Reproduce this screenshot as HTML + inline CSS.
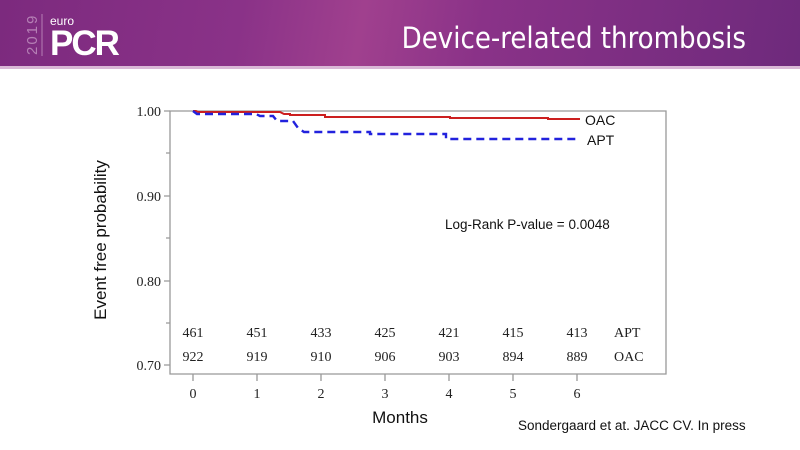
<!DOCTYPE html>
<html><head><meta charset="utf-8"><style>
body{margin:0;width:800px;height:450px;overflow:hidden;background:#fff;font-family:"Liberation Sans",sans-serif}
.hdr{position:absolute;left:0;top:0;width:800px;height:66px;background:linear-gradient(100deg,#7c2a7e 0%,#8a3288 30%,#a0408e 45%,#8a3288 60%,#6e2a7c 100%)}
.line{position:absolute;left:0;top:66px;width:800px;height:3px;background:#d9b8d6}
</style></head><body>
<div class="hdr"></div><div class="line"></div>
<svg width="800" height="450" style="position:absolute;left:0;top:0" font-family="Liberation Serif, serif">
<text x="0" y="0" transform="translate(37,55) rotate(-90)" font-family="Liberation Sans, sans-serif" font-size="15" fill="#b57fb5" letter-spacing="2">2019</text>
<line x1="42" y1="14" x2="42" y2="56" stroke="#b57fb5"/>
<text x="50" y="25" font-family="Liberation Sans, sans-serif" font-size="12" fill="#fff">euro</text>
<text x="50" y="55" font-family="Liberation Sans, sans-serif" font-size="35" font-weight="bold" fill="#fff" letter-spacing="-2">PCR</text>
<text x="746" y="48" text-anchor="end" font-family="DejaVu Sans Condensed, Liberation Sans, sans-serif" font-size="29" fill="#fff">Device-related thrombosis</text>
<g stroke="#999" fill="none" stroke-width="1.3">
<path d="M170 111 H666 V374 H170 Z"/>
<path d="M164 111H170M164 196H170M164 281H170M164 365H170M166 153H170M166 238H170M166 323H170"/>
<path d="M193 374v7M257 374v7M321 374v7M385 374v7M449 374v7M513 374v7M577 374v7"/>
</g>
<g font-size="14" fill="#222" text-anchor="end">
<text x="161" y="116">1.00</text><text x="161" y="201">0.90</text><text x="161" y="286">0.80</text><text x="161" y="370">0.70</text>
</g>
<g font-size="14" fill="#222" text-anchor="middle">
<text x="193" y="398">0</text><text x="257" y="398">1</text><text x="321" y="398">2</text><text x="385" y="398">3</text><text x="449" y="398">4</text><text x="513" y="398">5</text><text x="577" y="398">6</text>
<text x="193" y="337">461</text><text x="257" y="337">451</text><text x="321" y="337">433</text><text x="385" y="337">425</text><text x="449" y="337">421</text><text x="513" y="337">415</text><text x="577" y="337">413</text>
<text x="193" y="361">922</text><text x="257" y="361">919</text><text x="321" y="361">910</text><text x="385" y="361">906</text><text x="449" y="361">903</text><text x="513" y="361">894</text><text x="577" y="361">889</text>
</g>
<g font-size="14" fill="#222"><text x="614" y="337">APT</text><text x="614" y="361">OAC</text></g>
<path d="M193 111H196L198 112H280L284 114H290V115H325V117H450V118H548V119H580" fill="none" stroke="#cc1f1f" stroke-width="2"/>
<path d="M193 111L197 114H256L260 116H273L277 121H293L298 128L304 132H370V134H446V139H578" fill="none" stroke="#2222dd" stroke-width="2.4" stroke-dasharray="8,5"/>
<g font-family="Liberation Sans, sans-serif" fill="#111">
<text x="585" y="125" font-size="14">OAC</text><text x="587" y="145" font-size="14">APT</text>
<text x="445" y="229" font-size="13.5">Log-Rank P-value = 0.0048</text>
<text x="400" y="423" font-size="17" text-anchor="middle">Months</text>
<text x="518" y="430" font-size="13.5">Sondergaard et at. JACC CV. In press</text>
<text transform="translate(106,240) rotate(-90)" font-size="17" text-anchor="middle">Event free probability</text>
</g>
</svg>
</body></html>
